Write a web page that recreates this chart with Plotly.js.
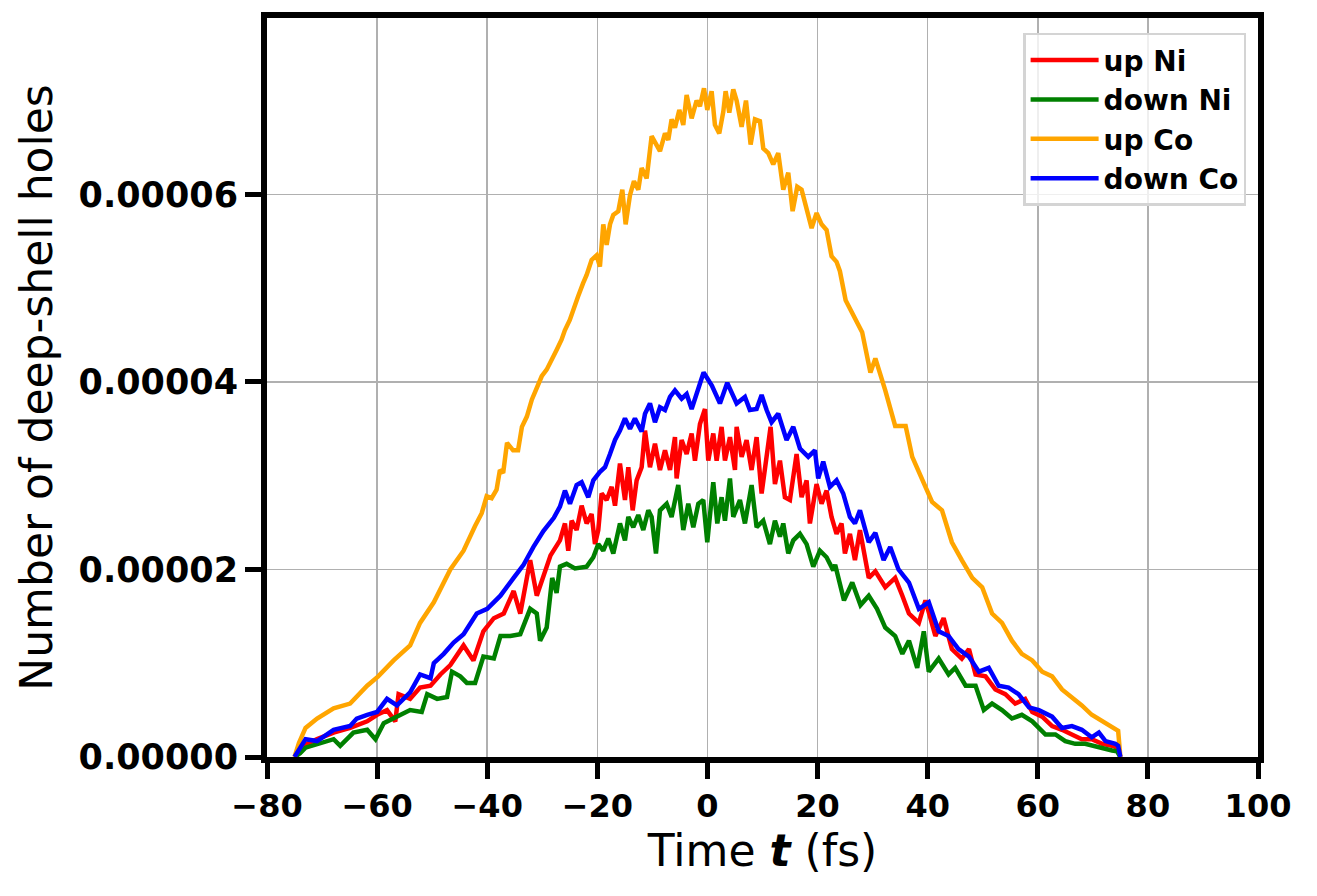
<!DOCTYPE html>
<html>
<head>
<meta charset="utf-8">
<script src="https://cdn.plot.ly/plotly-3.0.1.min.js"></script>
<style>html,body{margin:0;padding:0;background:#fff;}#chart{width:1317px;height:896px;}</style>
</head>
<body>
<div id="chart"></div>
<script>
// Time (fs) and number of deep-shell holes
const tUpNi = [-75,-74,-72.7,-70.9,-67.9,-64.9,-61.8,-60,-58.2,-56.7,-56.1,-54,-52.2,-50.3,-48.5,-46.7,-44.3,-42.5,-40.7,-38.8,-37,-35.2,-34,-32.2,-31,-29.8,-28.5,
 -26.79,-25.88,-25.28,-24.67,-23.76,-22.85,-21.94,-21.04,-20.43,-19.83,-19.22,-18.31,-17.40,-16.79,-15.89,-14.98,-14.37,-13.58,-12.86,-11.95,-11.34,-10.44,-9.53,-8.62,-7.71,-6.80,-5.90,-5.60,-4.69,-3.78,-2.87,-2.27,-1.36,-0.45,0.15,1.06,1.67,2.57,3.18,4.09,5.00,5.30,6.21,7.11,8.02,8.93,9.84,10.75,11.47,12.26,13.17,14.07,14.98,16.19,17.10,18.01,18.61,19.82,20.73,21.64,22.54,23.45,24.36,24.97,25.88,26.79,27.70,
 29.3,30.5,32.3,34.1,35.4,36.6,38.4,39.6,41.4,42.9,44.4,46.2,47.5,48.7,50.5,52.3,54.1,55.9,57.7,59,60.8,62.6,64.4,66.2,68,69.8,71.7,73.5,74.5,75];
const upNi = [0,0.05e-5,0.14e-5,0.19e-5,0.26e-5,0.31e-5,0.38e-5,0.45e-5,0.5e-5,0.38e-5,0.67e-5,0.62e-5,0.74e-5,0.76e-5,0.88e-5,0.98e-5,1.19e-5,1.03e-5,1.34e-5,1.48e-5,1.53e-5,1.77e-5,1.53e-5,2.1e-5,1.72e-5,1.91e-5,2.15e-5,
 2.31e-5,2.49e-5,2.2e-5,2.52e-5,2.42e-5,2.68e-5,2.49e-5,2.59e-5,2.27e-5,2.42e-5,2.81e-5,2.74e-5,2.88e-5,2.68e-5,3.13e-5,2.74e-5,3.09e-5,2.63e-5,2.95e-5,3.09e-5,3.48e-5,3.09e-5,3.34e-5,3.06e-5,3.27e-5,3.06e-5,3.41e-5,2.97e-5,3.38e-5,3.23e-5,3.45e-5,3.16e-5,3.55e-5,3.71e-5,3.16e-5,3.45e-5,3.16e-5,3.52e-5,3.16e-5,3.41e-5,3.06e-5,3.52e-5,3.2e-5,3.38e-5,3.06e-5,3.41e-5,2.81e-5,3.2e-5,3.52e-5,2.91e-5,3.16e-5,2.77e-5,2.74e-5,3.23e-5,2.77e-5,2.95e-5,2.49e-5,2.91e-5,2.7e-5,2.84e-5,2.56e-5,2.38e-5,2.49e-5,2.17e-5,2.38e-5,2.1e-5,2.42e-5,
 1.91e-5,1.98e-5,1.81e-5,1.91e-5,1.72e-5,1.53e-5,1.43e-5,1.67e-5,1.29e-5,1.48e-5,1.15e-5,1.05e-5,1.15e-5,0.88e-5,0.86e-5,0.72e-5,0.67e-5,0.57e-5,0.62e-5,0.48e-5,0.43e-5,0.33e-5,0.29e-5,0.24e-5,0.19e-5,0.19e-5,0.14e-5,0.12e-5,0.1e-5,0];

const tDownNi = [-75,-74,-73,-70.9,-67.9,-66.7,-64.3,-61.8,-60.3,-58.8,-56.4,-54,-51.9,-50.9,-49.1,-47.3,-46.4,-44.9,-43.7,-42.2,-40.7,-38.8,-37.6,-35.8,-34,-32.2,-31,-30.4,-29.2,-28.2,-27.4,
 -26.79,-25.58,-24.07,-21.94,-20.73,-19.83,-18.92,-18.01,-17.10,-15.89,-14.98,-14.37,-13.47,-12.56,-11.65,-10.74,-10.14,-9.35,-8.62,-7.41,-6.51,-5.30,-4.39,-3.48,-2.57,-1.66,-0.76,-0.03,1.06,1.79,2.57,3.18,4.09,4.69,5.90,6.81,8.02,8.93,10.14,11.35,12.26,13.17,13.77,14.68,15.59,16.80,18.01,19.22,20.43,21.64,22.85,
 23.2,24.8,26.3,27.8,29.3,30.8,32.3,34.1,35.4,36.6,38.1,39.3,40.2,42,43.8,45,46.9,48.7,50.2,51.7,53.5,55.3,57.1,59,61.4,63.2,65,66.8,68.6,71.1,73.5,74.4,75];
const downNi = [0,0.04e-5,0.1e-5,0.14e-5,0.19e-5,0.12e-5,0.26e-5,0.29e-5,0.19e-5,0.36e-5,0.43e-5,0.5e-5,0.48e-5,0.67e-5,0.62e-5,0.64e-5,0.91e-5,0.86e-5,0.79e-5,0.79e-5,1.07e-5,1.05e-5,1.29e-5,1.29e-5,1.31e-5,1.58e-5,1.53e-5,1.24e-5,1.38e-5,1.91e-5,1.75e-5,
 2.03e-5,2.06e-5,2.01e-5,2.03e-5,2.13e-5,2.27e-5,2.2e-5,2.33e-5,2.17e-5,2.49e-5,2.31e-5,2.56e-5,2.45e-5,2.58e-5,2.42e-5,2.63e-5,2.56e-5,2.17e-5,2.63e-5,2.7e-5,2.56e-5,2.9e-5,2.42e-5,2.7e-5,2.45e-5,2.7e-5,2.74e-5,2.29e-5,2.93e-5,2.49e-5,2.77e-5,2.52e-5,2.97e-5,2.56e-5,2.74e-5,2.49e-5,2.9e-5,2.45e-5,2.52e-5,2.27e-5,2.52e-5,2.35e-5,2.49e-5,2.17e-5,2.31e-5,2.38e-5,2.27e-5,2.03e-5,2.2e-5,2.13e-5,1.99e-5,
 2.05e-5,1.67e-5,1.86e-5,1.62e-5,1.72e-5,1.58e-5,1.38e-5,1.29e-5,1.1e-5,1.24e-5,0.95e-5,1.34e-5,0.91e-5,1.05e-5,0.88e-5,0.95e-5,0.76e-5,0.76e-5,0.5e-5,0.57e-5,0.5e-5,0.41e-5,0.45e-5,0.38e-5,0.24e-5,0.24e-5,0.17e-5,0.14e-5,0.14e-5,0.1e-5,0.07e-5,0.06e-5,0];

const tUpCo = [-75,-74.2,-73,-70.9,-67.9,-64.9,-61.8,-59.8,-57,-54,-52.2,-49.7,-46.7,-44.3,
 -42.23,-41.0,-40.1,-39.2,-38.3,-37.7,-37.1,-36.4,-35.3,-34.4,-33.7,-32.8,-31.9,-31.0,-30.1,-29.2,-28.3,-27.4,-26.5,-25.9,-25.0,-24.4,-23.5,-22.6,
 -21.94,-21.04,-20.13,-19.53,-18.92,-18.31,-17.70,-17.10,-16.19,-15.46,-14.86,-14.07,-13.35,-12.56,-11.95,-11.04,-10.14,-8.62,-7.71,-7.11,-6.51,-5.90,-5.11,-4.39,-3.78,-2.87,-1.97,-1.36,-0.63,-0.03,0.76,1.36,2.15,2.88,3.30,3.97,4.69,5.30,6.21,7.0,7.84,8.63,9.53,10.14,11.05,11.95,12.86,13.77,14.68,15.47,16.31,17.10,18.01,18.92,19.83,20.73,21.64,22.54,23.45,24.06,
 25.1,26.9,28.1,29.6,30.5,32.3,34.1,36,37.2,39,40.8,42.6,44.4,46.2,48.1,49.9,51.7,53.5,55.3,57.1,59,60.8,62.6,64.4,66.2,68,69.8,71.7,74.1,74.6,75];
const upCo = [0,0.15e-5,0.31e-5,0.41e-5,0.52e-5,0.57e-5,0.76e-5,0.86e-5,1.03e-5,1.19e-5,1.43e-5,1.65e-5,2.0e-5,2.2e-5,
 2.46e-5,2.6e-5,2.78e-5,2.76e-5,2.85e-5,3.06e-5,3.03e-5,3.35e-5,3.27e-5,3.27e-5,3.52e-5,3.63e-5,3.81e-5,3.95e-5,4.06e-5,4.13e-5,4.25e-5,4.34e-5,4.45e-5,4.55e-5,4.66e-5,4.77e-5,4.91e-5,5.05e-5,
 5.14e-5,5.3e-5,5.35e-5,5.23e-5,5.68e-5,5.46e-5,5.68e-5,5.78e-5,5.82e-5,6.05e-5,5.68e-5,5.99e-5,6.14e-5,6.05e-5,6.28e-5,6.17e-5,6.62e-5,6.46e-5,6.65e-5,6.58e-5,6.8e-5,6.71e-5,6.9e-5,6.74e-5,7.06e-5,6.81e-5,7.0e-5,6.94e-5,7.13e-5,6.9e-5,7.1e-5,6.74e-5,6.65e-5,6.88e-5,7.1e-5,6.87e-5,7.12e-5,7.0e-5,6.72e-5,7.0e-5,6.53e-5,6.8e-5,6.78e-5,6.49e-5,6.44e-5,6.32e-5,6.44e-5,6.05e-5,6.23e-5,5.82e-5,6.08e-5,6.05e-5,5.85e-5,5.64e-5,5.8e-5,5.68e-5,5.62e-5,5.34e-5,5.28e-5,5.18e-5,
 4.87e-5,4.68e-5,4.53e-5,4.1e-5,4.25e-5,3.91e-5,3.53e-5,3.53e-5,3.2e-5,2.96e-5,2.72e-5,2.63e-5,2.29e-5,2.1e-5,1.91e-5,1.81e-5,1.53e-5,1.43e-5,1.24e-5,1.1e-5,1.03e-5,0.91e-5,0.86e-5,0.72e-5,0.64e-5,0.55e-5,0.45e-5,0.38e-5,0.29e-5,0.28e-5,0];

const tDownCo = [-75,-74.2,-73,-70.9,-67.9,-64.9,-63.7,-61.8,-60,-58.2,-56.4,-54,-52.2,-50.3,-49.7,-47.9,-46.1,-44.3,-41.9,-40,-37.6,-35.2,-33.4,-31.6,-29.8,-27.9,
 -26.79,-25.88,-24.97,-23.76,-22.85,-21.64,-20.73,-19.52,-18.61,-17.70,-16.79,-15.89,-14.98,-14.07,-13.17,-11.95,-11.34,-10.44,-9.53,-8.62,-7.71,-6.80,-5.90,-4.69,-3.78,-2.87,-1.97,-0.7,0.8,2.27,3.6,5.30,6.81,7.71,8.93,9.84,10.75,11.65,12.86,14.37,15.59,16.80,18.31,19.52,20.12,21.03,22.24,23.45,24.66,25.88,26.79,27.70,
 29.3,30.5,32,33.2,34.7,36.6,38.4,40.2,42,43.8,45.6,47.5,49.3,51.1,52.9,54.7,56.5,58.4,60.2,62.6,64.4,66.2,68,69.8,71.1,72.3,74.1,74.6,75];
const downCo = [0,0.08e-5,0.19e-5,0.17e-5,0.29e-5,0.33e-5,0.41e-5,0.45e-5,0.48e-5,0.62e-5,0.55e-5,0.69e-5,0.88e-5,0.84e-5,1.0e-5,1.1e-5,1.22e-5,1.31e-5,1.53e-5,1.58e-5,1.72e-5,1.91e-5,2.05e-5,2.24e-5,2.41e-5,2.55e-5,
 2.67e-5,2.84e-5,2.7e-5,2.9e-5,2.93e-5,2.77e-5,2.95e-5,3.04e-5,3.09e-5,3.23e-5,3.38e-5,3.48e-5,3.61e-5,3.5e-5,3.61e-5,3.47e-5,3.66e-5,3.77e-5,3.57e-5,3.73e-5,3.7e-5,3.84e-5,3.91e-5,3.82e-5,3.87e-5,3.71e-5,3.86e-5,4.1e-5,3.96e-5,3.77e-5,3.99e-5,3.77e-5,3.84e-5,3.7e-5,3.71e-5,3.86e-5,3.7e-5,3.57e-5,3.66e-5,3.38e-5,3.52e-5,3.29e-5,3.2e-5,3.27e-5,2.97e-5,3.15e-5,2.88e-5,2.95e-5,2.81e-5,2.56e-5,2.49e-5,2.63e-5,
 2.29e-5,2.39e-5,2.1e-5,2.24e-5,2.0e-5,1.86e-5,1.58e-5,1.65e-5,1.34e-5,1.29e-5,1.15e-5,1.07e-5,0.91e-5,0.95e-5,0.76e-5,0.74e-5,0.67e-5,0.53e-5,0.5e-5,0.43e-5,0.31e-5,0.33e-5,0.29e-5,0.21e-5,0.26e-5,0.17e-5,0.14e-5,0.12e-5,0];

const seriesNames = ['up Ni','down Ni','up Co','down Co'];
const seriesColors = ['#ff0000','#008000','#ffa500','#0000ff'];
const xTicks = [-80,-60,-40,-20,0,20,40,60,80,100];
const xTickText = ['\u221280','\u221260','\u221240','\u221220','0','20','40','60','80','100'];
const yTicks = [0,2e-5,4e-5,6e-5];
const yTickText = ['0.00000','0.00002','0.00004','0.00006'];

const xs = [tUpNi,tDownNi,tUpCo,tDownCo];
const ys = [upNi,downNi,upCo,downCo];
const traces = seriesNames.map((n,i)=>({
  x: xs[i], y: ys[i], name: n, type:'scatter', mode:'lines',
  line:{color:seriesColors[i], width:4.5}
}));

const FAM = '"DejaVu Sans", sans-serif';
const layout = {
  width:1317, height:896,
  margin:{l:267, r:59, t:18, b:139},
  paper_bgcolor:'#fff', plot_bgcolor:'#fff',
  showlegend:true,
  font:{family:FAM, color:'#000'},
  xaxis:{
    range:[-80,100], tickvals:xTicks, ticktext:xTickText,
    showgrid:true, gridcolor:'#b0b0b0', gridwidth:1.6,
    zeroline:false, showline:true, linecolor:'#000', linewidth:6, mirror:true,
    ticks:'outside', ticklen:16, tickwidth:5, tickcolor:'#000',
    tickfont:{family:FAM, size:32, color:'#000', weight:'bold'},
    title:{text:'Time <b><i>t</i></b> (fs)', font:{family:FAM, size:44, color:'#000'}, standoff:8},
    automargin:false
  },
  yaxis:{
    range:[0,7.88e-5], tickvals:yTicks, ticktext:yTickText,
    showgrid:true, gridcolor:'#b0b0b0', gridwidth:1.6,
    zeroline:false, showline:true, linecolor:'#000', linewidth:6, mirror:true,
    ticks:'outside', ticklen:16, tickwidth:5, tickcolor:'#000',
    tickfont:{family:FAM, size:35, color:'#000', weight:'bold'},
    title:{text:'Number of deep-shell holes', font:{family:FAM, size:44, color:'#000'}, standoff:14},
    automargin:false
  },
  legend:{
    x:0.988, xanchor:'right', y:0.98, yanchor:'top',
    bgcolor:'rgba(255,255,255,0.8)', bordercolor:'#d4d4d4', borderwidth:2.5,
    font:{family:FAM, size:28, color:'#000', weight:'bold'},
    itemwidth:68, tracegroupgap:0
  }
};
Plotly.newPlot('chart', traces, layout, {staticPlot:true, displayModeBar:false});
</script>
</body>
</html>
